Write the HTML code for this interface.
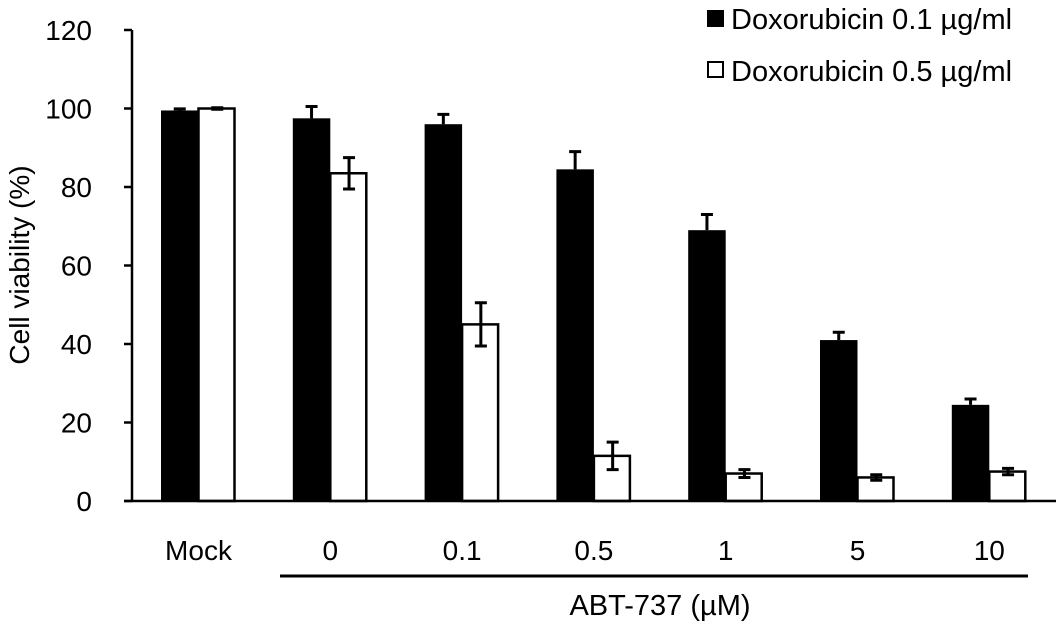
<!DOCTYPE html>
<html><head><meta charset="utf-8"><style>
body{margin:0;background:#fff}
text{font-family:"Liberation Sans",Arial,sans-serif;fill:#000}
</style></head><body>
<svg id="chart" width="1063" height="634" viewBox="0 0 1063 634" xmlns="http://www.w3.org/2000/svg">
<g id="g"></g>
</svg>
<script>
const categories=["Mock","0","0.1","0.5","1","5","10"];
const seriesLow=[99.5,97.5,96,84.5,69,41,24.5];
const errLow=[0.4,3,2.5,4.5,4,2,1.5];
const seriesHigh=[100,83.5,45,11.5,7,6,7.5];
const errHigh=[0.2,4,5.5,3.5,1,0.7,0.8];
const yTicks=[0,20,40,60,80,100,120];

const NS="http://www.w3.org/2000/svg";
const g=document.getElementById('g');
const x0=132,y0=501,yTop=30,yMax=120;
const groupStart=161,groupStep=131.8,barW=37.5;
function ys(v){return y0-(v/yMax)*(y0-yTop);}
function xs(i,s){return groupStart+i*groupStep+s*barW;}
function el(t,a,txt){const e=document.createElementNS(NS,t);for(const k in a)e.setAttribute(k,a[k]);if(txt!==undefined)e.textContent=txt;g.appendChild(e);return e;}

categories.forEach((c,i)=>{
  let b=el('rect',{x:xs(i,0),y:ys(seriesLow[i]),width:barW,height:y0-ys(seriesLow[i]),fill:'#000'});
  
  
  let w=el('rect',{x:xs(i,1),y:ys(seriesHigh[i]),width:barW-1.5,height:y0-ys(seriesHigh[i]),fill:'#fff',stroke:'#000','stroke-width':2.5});
  
  
  let cx=xs(i,0)+barW/2, top=ys(seriesLow[i]+errLow[i]);
  let e1=el('path',{d:`M${cx},${ys(seriesLow[i])} V${top} M${cx-6},${top} H${cx+6}`,stroke:'#000','stroke-width':3,fill:'none'});
  
  
  let cx2=xs(i,1)+barW/2, t2=ys(seriesHigh[i]+errHigh[i]), b2=ys(seriesHigh[i]-errHigh[i]);
  let e2=el('path',{d:`M${cx2},${b2} V${t2} M${cx2-6},${t2} H${cx2+6} M${cx2-6},${b2} H${cx2+6}`,stroke:'#000','stroke-width':3,fill:'none'});
  
  
  let t=el('text',{x:groupStart+i*groupStep+barW,y:560,'font-size':28,'text-anchor':'middle'},c);
  
  
});
let ya=el('path',{d:`M${x0},${yTop} V${y0}`,stroke:'#000','stroke-width':2.5});


let xa=el('path',{d:`M${x0-8},${y0} H1056`,stroke:'#000','stroke-width':2.5});


yTicks.forEach(v=>{
  let tk=el('path',{d:`M${x0-8},${ys(v)} H${x0}`,stroke:'#000','stroke-width':2.5});
  
  
  let tl=el('text',{x:92,y:ys(v)+10,'font-size':28,'text-anchor':'end'},v);
  
  
});
let yt=el('text',{x:0,y:0,'font-size':28,'text-anchor':'middle',transform:'translate(29,265) rotate(-90)'},'Cell viability (%)');


let ul=el('path',{d:'M280,576 H1028',stroke:'#000','stroke-width':3});


let xt=el('text',{x:660,y:615,'font-size':29,'text-anchor':'middle'},'ABT-737 (µM)');


let l1=el('rect',{x:707,y:10,width:17,height:17,fill:'#000'});


let lt1=el('text',{x:731,y:29,'font-size':29},'Doxorubicin 0.1 µg/ml');


let l2=el('rect',{x:708,y:62,width:15,height:15,fill:'#fff',stroke:'#000','stroke-width':2});


let lt2=el('text',{x:731,y:81,'font-size':29},'Doxorubicin 0.5 µg/ml');


</script>
</body></html>
